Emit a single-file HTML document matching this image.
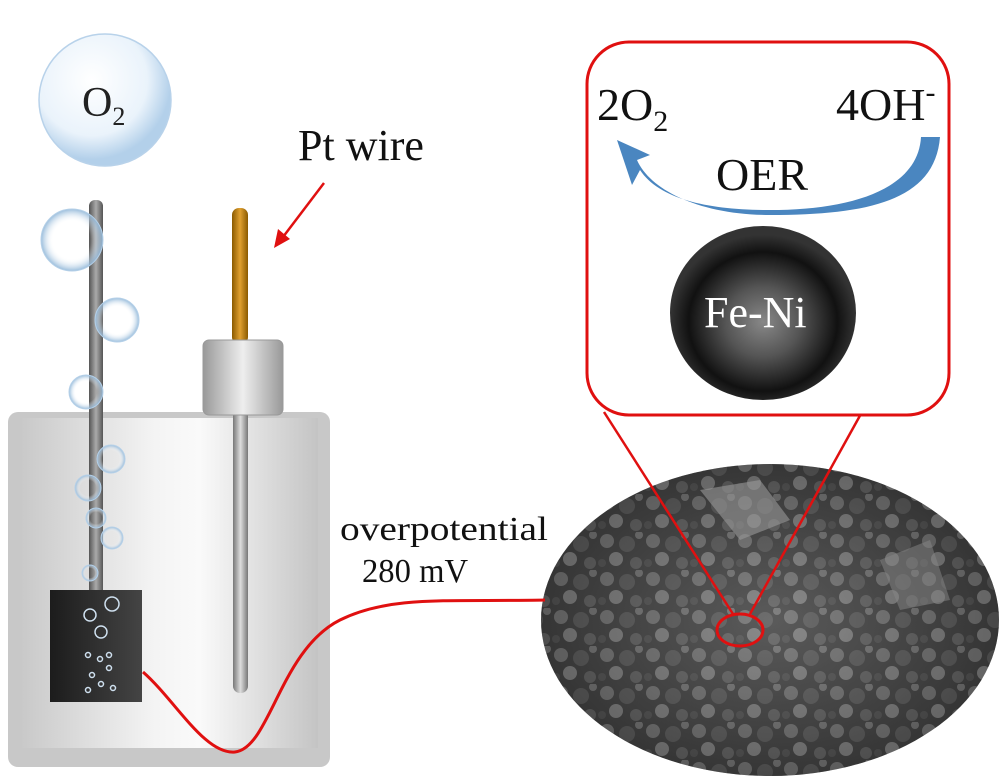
<!DOCTYPE html>
<html><head><style>
html,body{margin:0;padding:0;background:#fff;}
svg{display:block;}
text{font-family:"Liberation Serif",serif;}
</style></head><body>
<svg width="1000" height="779" viewBox="0 0 1000 779">
<defs>
<linearGradient id="beak" x1="0" x2="1">
<stop offset="0" stop-color="#c9c9c9"/><stop offset="0.45" stop-color="#f4f4f4"/><stop offset="0.6" stop-color="#fafafa"/><stop offset="1" stop-color="#c4c4c4"/></linearGradient>
<linearGradient id="rod" x1="0" x2="1"><stop offset="0" stop-color="#555"/><stop offset="0.5" stop-color="#aaa"/><stop offset="1" stop-color="#555"/></linearGradient>
<linearGradient id="rod2" x1="0" x2="1"><stop offset="0" stop-color="#777"/><stop offset="0.5" stop-color="#ddd"/><stop offset="1" stop-color="#777"/></linearGradient>
<linearGradient id="gold" x1="0" x2="1"><stop offset="0" stop-color="#8a5a00"/><stop offset="0.5" stop-color="#e0a030"/><stop offset="1" stop-color="#8a5a00"/></linearGradient>
<linearGradient id="cap" x1="0" x2="1"><stop offset="0" stop-color="#999"/><stop offset="0.5" stop-color="#eee"/><stop offset="1" stop-color="#999"/></linearGradient>
<linearGradient id="plate" x1="0" x2="1"><stop offset="0" stop-color="#1c1c1c"/><stop offset="1" stop-color="#444"/></linearGradient>
<radialGradient id="bub" cx="0.4" cy="0.35" r="0.6"><stop offset="0" stop-color="#fff"/><stop offset="0.7" stop-color="#eaf3fb"/><stop offset="1" stop-color="#b3d0ea"/></radialGradient>
<radialGradient id="sb" cx="0.5" cy="0.5" r="0.5"><stop offset="0.6" stop-color="#fff" stop-opacity="0"/><stop offset="1" stop-color="#8fb6d8" stop-opacity="0.9"/></radialGradient>
<radialGradient id="part" cx="0.5" cy="0.55" r="0.5"><stop offset="0" stop-color="#888"/><stop offset="0.4" stop-color="#555"/><stop offset="0.8" stop-color="#111"/><stop offset="1" stop-color="#333"/></radialGradient>
<radialGradient id="sem" cx="0.5" cy="0.5" r="0.5"><stop offset="0" stop-color="#777"/><stop offset="1" stop-color="#222"/></radialGradient>
<pattern id="grains" width="46" height="38" patternUnits="userSpaceOnUse">
<rect width="46" height="38" fill="#444"/>
<circle cx="9" cy="9" r="7" fill="#8a8a8a"/><circle cx="29" cy="12" r="8" fill="#666"/><circle cx="18" cy="27" r="7" fill="#9a9a9a"/><circle cx="38" cy="31" r="6" fill="#707070"/><circle cx="4" cy="31" r="4" fill="#5a5a5a"/><circle cx="41" cy="3" r="4" fill="#8a8a8a"/>
</pattern>
<clipPath id="ell"><ellipse cx="770" cy="620" rx="229" ry="156"/></clipPath>
</defs>

<rect x="8" y="412" width="322" height="355" rx="10" fill="#c8c8c8"/>
<rect x="22" y="418" width="296" height="330" fill="url(#beak)"/>

<rect x="89" y="200" width="14" height="400" rx="6" fill="url(#rod)"/>
<rect x="50" y="590" width="92" height="112" fill="url(#plate)"/>
<g fill="none" stroke="#cfe0ef" stroke-width="1.5">
<circle cx="112" cy="604" r="7"/><circle cx="90" cy="615" r="6"/><circle cx="101" cy="632" r="6"/>
<circle cx="88" cy="655" r="2.5"/><circle cx="100" cy="659" r="2.5"/><circle cx="109" cy="655" r="2.5"/><circle cx="109" cy="668" r="2.5"/><circle cx="92" cy="675" r="2.5"/><circle cx="101" cy="684" r="2.5"/><circle cx="88" cy="690" r="2.5"/><circle cx="113" cy="688" r="2.5"/>
</g>
<circle cx="72" cy="240" r="31" fill="url(#sb)" stroke="#b5d0e8" stroke-width="1"/>
<circle cx="117" cy="320" r="22" fill="url(#sb)" stroke="#b5d0e8" stroke-width="1"/>
<circle cx="86" cy="392" r="17" fill="url(#sb)" stroke="#b5d0e8"/>
<circle cx="88" cy="488" r="13" fill="url(#sb)" stroke="#b5d0e8"/>
<circle cx="112" cy="538" r="11" fill="url(#sb)" stroke="#b5d0e8"/>
<circle cx="111" cy="459" r="14" fill="url(#sb)" stroke="#b5d0e8"/>
<circle cx="90" cy="573" r="8" fill="url(#sb)" stroke="#b5d0e8"/>
<circle cx="96" cy="518" r="10" fill="url(#sb)" stroke="#b5d0e8"/>
<circle cx="105" cy="100" r="66" fill="url(#bub)" stroke="#b8d2ea" stroke-width="1.5"/>
<text x="82" y="116" font-size="42" fill="#222">O<tspan font-size="26" dy="9">2</tspan></text>

<rect x="232" y="208" width="16" height="136" rx="7" fill="url(#gold)"/>
<rect x="233" y="405" width="15" height="288" rx="7" fill="url(#rod2)"/>
<rect x="203" y="340" width="80" height="75" rx="6" fill="url(#cap)" stroke="#999"/>
<text x="298" y="160" font-size="44" fill="#111">Pt wire</text>
<line x1="324" y1="183" x2="283" y2="237" stroke="#e01010" stroke-width="2.5"/>
<polygon points="274,248 278,229 290,239" fill="#e01010"/>

<text x="340" y="540" font-size="34" fill="#111" textLength="208" lengthAdjust="spacingAndGlyphs">overpotential</text>
<text x="362" y="582" font-size="34" fill="#111" textLength="106" lengthAdjust="spacingAndGlyphs">280 mV</text>

<g clip-path="url(#ell)">
<rect x="540" y="460" width="460" height="320" fill="url(#grains)"/>
<rect x="540" y="460" width="460" height="320" fill="url(#sem)" opacity="0.45"/>
<polygon points="700,490 760,480 790,520 740,540" fill="#999" opacity="0.6"/>
<polygon points="880,560 930,540 950,600 900,610" fill="#888" opacity="0.5"/>
</g>
<ellipse cx="740" cy="630" rx="23" ry="16" fill="none" stroke="#e01010" stroke-width="3"/>

<line x1="604" y1="412" x2="733" y2="614" stroke="#e01010" stroke-width="2.5"/>
<line x1="862" y1="412" x2="750" y2="614" stroke="#e01010" stroke-width="2.5"/>
<rect x="587" y="42" width="362" height="373" rx="42" fill="#fff" stroke="#e01010" stroke-width="3"/>
<text x="597" y="120" font-size="46" fill="#111">2O<tspan font-size="30" dy="11">2</tspan></text>
<text x="836" y="120" font-size="46" fill="#111">4OH<tspan font-size="30" dy="-18">-</tspan></text>
<path d="M921,137 L940,137 C935,200 870,215 770,215 C700,215 650,190 637,160 L650,155 L617,140 L632,185 L640,170 C660,200 710,210 770,210 C850,210 918,190 921,137 Z" fill="#4a86c0"/>
<text x="716" y="190" font-size="46" fill="#111">OER</text>
<ellipse cx="763" cy="313" rx="93" ry="87" fill="url(#part)"/>
<text x="704" y="327" font-size="44" fill="#fff">Fe-Ni</text>

<path d="M143,672 C175,700 205,755 235,752 C270,748 280,650 340,620 C390,595 450,602 545,600" fill="none" stroke="#e01010" stroke-width="3"/>
</svg>
</body></html>
